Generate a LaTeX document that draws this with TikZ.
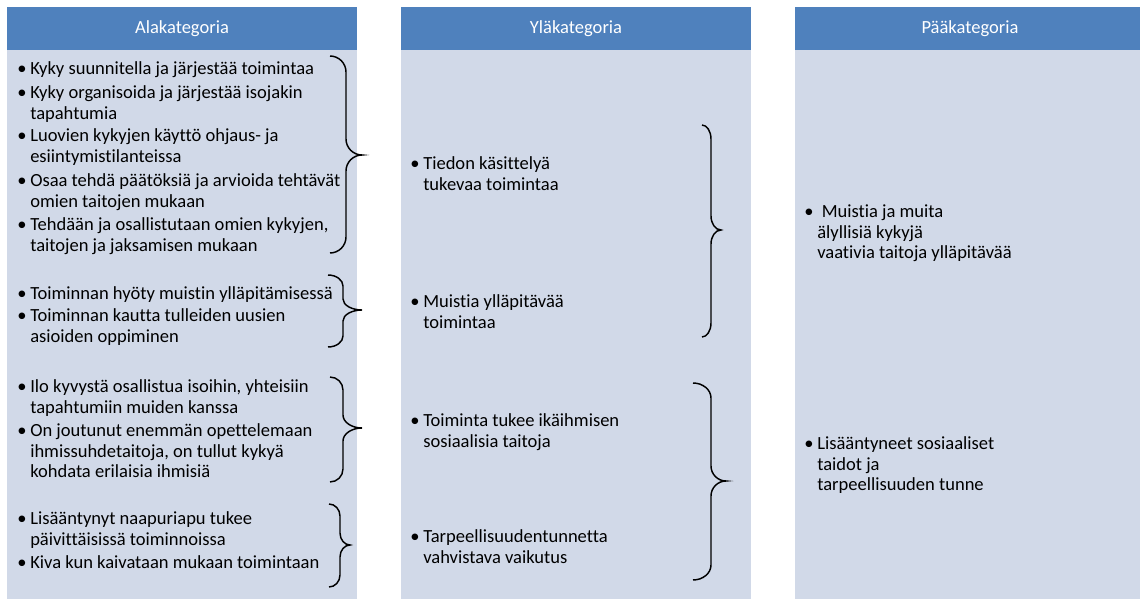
\documentclass[tikz,border=0pt]{standalone}
\usepackage{fontspec}
\setmainfont{Carlito}[Ligatures={NoCommon}]
\usepackage{xcolor}
\usetikzlibrary{positioning}
\definecolor{hdrblue}{HTML}{4F81BD}
\definecolor{panelgray}{HTML}{D1D9E8}

\begin{document}
\begin{tikzpicture}[
  x=0.75pt, y=-0.75pt,
  panel/.style={fill=panelgray},
  header/.style={fill=hdrblue, text=white, minimum width=262.5pt, minimum height=32.25pt,
    inner sep=0pt, font=\fontsize{13.9}{15.45}\selectfont},
  bul/.style={anchor=north, inner sep=0pt, xshift=-6pt, font=\fontsize{13.9}{15.45}\selectfont},
  entry/.style={anchor=north west, inner sep=0pt, align=left, font=\fontsize{13.9}{15.45}\selectfont,
    label={[bul]north west:\strut\textbullet}},
  curly/.style={draw=black, line width=1.1pt}
]
  \useasboundingbox (0,0) rectangle (1140,599);
  \clip (0,0) rectangle (1140,599);
  % three columns: panel and header
  \foreach \xl in {7,401,795} {
    \fill[panel] (\xl,50) rectangle (\xl+350,605);
  }
  \node[header] (hAla) at (182,28.5) {Alakategoria};
  \node[header] (hYla) at (576,28.5) {Yläkategoria};
  \node[header] (hPaa) at (970,28.5) {Pääkategoria};
  % Alakategoria entries
  \node[entry] (ala1) at (30,60) {\strut Kyky suunnitella ja järjestää toimintaa};
  \node[entry] (ala2) at (30,84) {\strut Kyky organisoida ja järjestää isojakin\\tapahtumia};
  \node[entry] (ala3) at (30,127) {\strut Luovien kykyjen käyttö ohjaus- ja\\esiintymistilanteissa};
  \node[entry] (ala4) at (30,172) {\strut Osaa tehdä päätöksiä ja arvioida tehtävät\\omien taitojen mukaan};
  \node[entry] (ala5) at (30,216) {\strut Tehdään ja osallistutaan omien kykyjen,\\taitojen ja jaksamisen mukaan};
  \node[entry] (ala6) at (30,285) {\strut Toiminnan hyöty muistin ylläpitämisessä};
  \node[entry] (ala7) at (30,307) {\strut Toiminnan kautta tulleiden uusien\\asioiden oppiminen};
  \node[entry] (ala8) at (30,378) {\strut Ilo kyvystä osallistua isoihin, yhteisiin\\tapahtumiin muiden kanssa};
  \node[entry] (ala9) at (30,422) {\strut On joutunut enemmän opettelemaan\\ihmissuhdetaitoja, on tullut kykyä\\kohdata erilaisia ihmisiä};
  \node[entry] (ala10) at (30,510) {\strut Lisääntynyt naapuriapu tukee\\päivittäisissä toiminnoissa};
  \node[entry] (ala11) at (30,554) {\strut Kiva kun kaivataan mukaan toimintaan};
  % Yläkategoria entries
  \node[entry] (yla1) at (423,155) {\strut Tiedon käsittelyä\\tukevaa toimintaa};
  \node[entry] (yla2) at (423,293) {\strut Muistia ylläpitävää\\toimintaa};
  \node[entry] (yla3) at (423,412) {\strut Toiminta tukee ikäihmisen\\sosiaalisia taitoja};
  \node[entry] (yla4) at (423,528) {\strut Tarpeellisuudentunnetta\\vahvistava vaikutus};
  % Pääkategoria entries
  \node[entry] (paa1) at (817,203) {\strut\hspace*{3.4pt}Muistia ja muita\\älyllisiä kykyjä\\vaativia taitoja ylläpitävää};
  \node[entry] (paa2) at (817,435) {\strut Lisääntyneet sosiaaliset\\taidot ja\\tarpeellisuuden tunne};
  % right braces: end x / stem x / tip x / top / tip y / bottom / curl
  \foreach \xe/\xs/\xt/\yt/\ym/\yb/\r in {
      330/346/362/56/155/253/16,
      328/343/362/275/310/347/11,
      330/343/362/377/428/482/13,
      329/340/350/504/545/587/12,
      702/711/721/125/230/337/14,
      693/711/726/383/481/580/15} {
    \draw[curly] (\xe,\yt)
      .. controls ({\xe+0.55*(\xs-\xe)},\yt) and (\xs,{\yt+0.45*\r}) .. (\xs,\yt+\r)
      -- (\xs,\ym-\r)
      .. controls (\xs,{\ym-0.45*\r}) and ({\xs+0.45*(\xt-\xs)},\ym) .. (\xt,\ym)
      .. controls ({\xs+0.45*(\xt-\xs)},\ym) and (\xs,{\ym+0.45*\r}) .. (\xs,\ym+\r)
      -- (\xs,\yb-\r)
      .. controls (\xs,{\yb-0.45*\r}) and ({\xe+0.55*(\xs-\xe)},\yb) .. (\xe,\yb);
  }
\end{tikzpicture}
\end{document}
